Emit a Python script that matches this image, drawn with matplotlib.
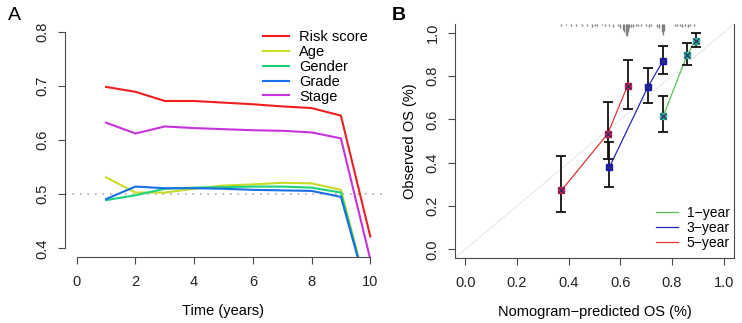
import matplotlib
matplotlib.use("Agg")
from matplotlib import pyplot as plt

plt.rcParams['font.family'] = ['Liberation Sans', 'DejaVu Sans']
plt.rcParams['font.size'] = 10

# Panel A: time-dependent AUC / C-index
years = [1, 2, 3, 4, 5, 6, 7, 8, 9, 10]
risk_score = [0.698, 0.689, 0.672, 0.672, 0.669, 0.666, 0.662, 0.659, 0.645, 0.422]
age = [0.531, 0.503, 0.503, 0.510, 0.516, 0.518, 0.521, 0.520, 0.508, 0.300]
gender = [0.489, 0.498, 0.510, 0.512, 0.513, 0.514, 0.514, 0.512, 0.503, 0.300]
grade = [0.491, 0.514, 0.511, 0.511, 0.510, 0.508, 0.507, 0.506, 0.495, 0.300]
stage = [0.632, 0.612, 0.625, 0.622, 0.620, 0.618, 0.617, 0.614, 0.603, 0.380]
a_labels = ["Risk score", "Age", "Gender", "Grade", "Stage"]
a_colors = ["#f01e1e", "#c8dc28", "#1ed27a", "#1a6ee6", "#c832dc"]

# Panel B: calibration curves
pred_1y = [0.767, 0.859, 0.891]
obs_1y = [0.617, 0.899, 0.963]
lo_1y = [0.541, 0.853, 0.932]
hi_1y = [0.710, 0.951, 0.997]
pred_3y = [0.558, 0.706, 0.764]
obs_3y = [0.380, 0.748, 0.868]
lo_3y = [0.290, 0.675, 0.807]
hi_3y = [0.494, 0.836, 0.940]
pred_5y = [0.372, 0.551, 0.628]
obs_5y = [0.272, 0.533, 0.755]
lo_5y = [0.172, 0.418, 0.648]
hi_5y = [0.432, 0.679, 0.875]
b_labels = ["1\u2212year", "3\u2212year", "5\u2212year"]
b_colors = ["#55c455", "#2525b4", "#e03535"]
b_fill = ["#2fb59a", "#1515d0", "#c81e50"]

# spike histogram of predicted values (top margin)
spike_x = [0.37, 0.39, 0.41, 0.43, 0.45, 0.47, 0.49, 0.50, 0.51, 0.53, 0.54, 0.555,
           0.57, 0.59, 0.60, 0.61, 0.615, 0.62, 0.625, 0.63, 0.635, 0.64, 0.65, 0.66,
           0.67, 0.68, 0.70, 0.71, 0.72, 0.74, 0.75, 0.76, 0.765, 0.77, 0.81, 0.82,
           0.83, 0.84, 0.85, 0.86, 0.87, 0.885]
spike_h = [0.008, 0.006, 0.008, 0.008, 0.010, 0.010, 0.012, 0.010, 0.008, 0.006, 0.008, 0.008,
           0.012, 0.010, 0.018, 0.026, 0.038, 0.050, 0.055, 0.038, 0.020, 0.016, 0.012, 0.010,
           0.008, 0.010, 0.008, 0.012, 0.010, 0.016, 0.020, 0.038, 0.052, 0.030, 0.008, 0.010,
           0.008, 0.012, 0.010, 0.012, 0.008, 0.010]

W, H = 742, 323
fig = plt.figure(figsize=(W / 100, H / 100), dpi=100)

def box(l, t, r, b):
    return [l / W, 1 - b / H, (r - l) / W, (b - t) / H]

axis_col = "#4a4a4a"

# ---- panel A
axA = fig.add_axes(box(65, 23, 382, 257))
for vals, lab, col in zip([risk_score, age, gender, grade, stage], a_labels, a_colors):
    axA.plot(years, vals, color=col, lw=1.5, label=lab)
axA.axhline(0.5, color="#aaaaaa", lw=1.2, ls=(0, (1, 3.5)), zorder=0)
axA.set_xlim(-0.4, 10.4)
axA.set_ylim(0.384, 0.816)
axA.set_xticks([0, 2, 4, 6, 8, 10])
axA.set_yticks([0.4, 0.5, 0.6, 0.7, 0.8])
axA.set_yticklabels(["0.4", "0.5", "0.6", "0.7", "0.8"], rotation=90, va="center")
axA.spines["top"].set_visible(False)
axA.spines["right"].set_visible(False)
axA.spines["left"].set_bounds(0.4, 0.8)
axA.spines["bottom"].set_bounds(0, 10)
for s in ["left", "bottom"]:
    axA.spines[s].set_color(axis_col)
axA.tick_params(direction="out", length=5, color=axis_col, labelcolor="#222222", labelsize=10.5)
axA.tick_params(axis="y", pad=6)
axA.tick_params(axis="x", pad=8)
axA.set_xlabel("Time (years)", fontsize=10.5, labelpad=11)
axA.legend(loc="upper left", bbox_to_anchor=(263 / W, 1 - 30 / H), bbox_transform=fig.transFigure,
           frameon=False, handlelength=1.75, handletextpad=0.75, labelspacing=0.06,
           borderpad=0, borderaxespad=0, fontsize=10.5)
fig.text(8 / W, 1 - 16 / H, "A", fontsize=14, va="center", ha="left")

# ---- panel B
axB = fig.add_axes(box(455, 24, 734, 258))
axB.plot([-0.04, 1.04], [-0.04, 1.04], color="#ebebeb", lw=0.9, zorder=0)
axB.vlines(spike_x, [1.04 - h for h in spike_h], 1.04, color="#808080", lw=1.0)
groups = [(pred_1y, obs_1y, lo_1y, hi_1y), (pred_3y, obs_3y, lo_3y, hi_3y), (pred_5y, obs_5y, lo_5y, hi_5y)]
for (px, py, lo, hi), lab, col, fc in zip(groups, b_labels, b_colors, b_fill):
    axB.plot(px, py, color=col, lw=0.9, label=lab)
    yerr = [[y - l for y, l in zip(py, lo)], [h - y for y, h in zip(py, hi)]]
    axB.errorbar(px, py, yerr=yerr, fmt="none", ecolor="#111111", elinewidth=1.3, capsize=3.5, capthick=1.3)
    axB.plot(px, py, ls="none", marker="s", ms=5, mfc=fc, mec=fc)
    axB.plot(px, py, ls="none", marker="x", ms=4.5, mec="#303060", mew=0.9)
axB.set_xlim(-0.04, 1.04)
axB.set_ylim(-0.04, 1.04)
ticks = [0.0, 0.2, 0.4, 0.6, 0.8, 1.0]
tlabels = ["0.0", "0.2", "0.4", "0.6", "0.8", "1.0"]
axB.set_xticks(ticks)
axB.set_xticklabels(tlabels)
axB.set_yticks(ticks)
axB.set_yticklabels(tlabels, rotation=90, va="center")
axB.spines["top"].set_visible(False)
for s in ["left", "bottom", "right"]:
    axB.spines[s].set_color(axis_col)
axB.tick_params(direction="out", length=5, color=axis_col, labelcolor="#222222", labelsize=10.5)
axB.tick_params(axis="y", pad=6)
axB.tick_params(axis="x", pad=8)
axB.set_xlabel("Nomogram\u2212predicted OS (%)", fontsize=10.5, labelpad=11)
axB.set_ylabel("Observed OS (%)", fontsize=10.5, labelpad=6)
axB.legend(loc="upper left", bbox_to_anchor=(656 / W, 1 - 206 / H), bbox_transform=fig.transFigure,
           frameon=False, handlelength=1.6, handletextpad=0.6, labelspacing=0.08,
           borderpad=0, borderaxespad=0, fontsize=10)
fig.text(392 / W, 1 - 16 / H, "B", fontsize=14, fontweight="bold", va="center", ha="left")

fig.savefig("out.png", dpi=100)
